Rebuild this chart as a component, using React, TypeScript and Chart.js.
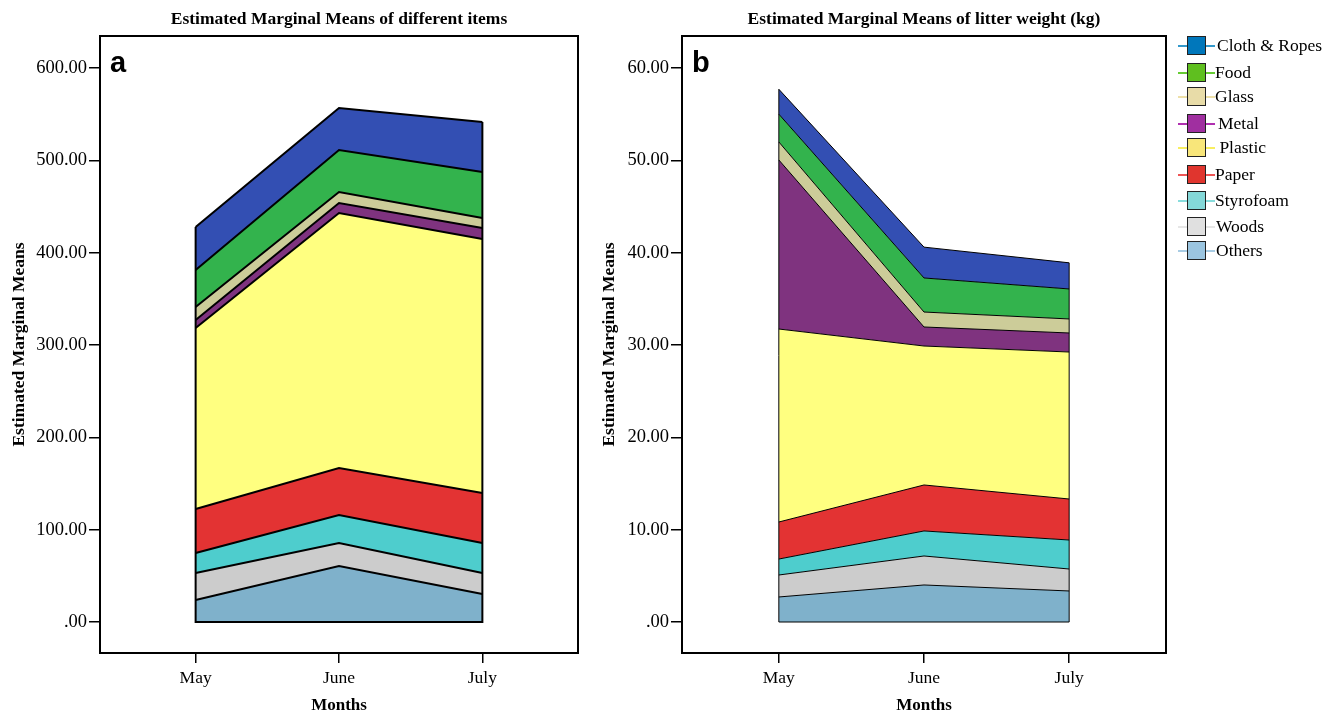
import React, { useEffect, useRef } from "react";
import { Chart, registerables } from "chart.js";

Chart.register(...registerables);

const months = ["May", "June", "July"];
const seriesNames = ["Others", "Woods", "Styrofoam", "Paper", "Plastic", "Metal", "Glass", "Food", "Cloth & Ropes"];
const areaColors = ["#7FB1CB", "#CCCCCC", "#4ECDCD", "#E33333", "#FFFF80", "#7F337F", "#CCCC99", "#33B34D", "#334FB3"];

// Panel a: estimated marginal means of different items (counts)
const itemsOthers = [23.8, 60.6, 30.3];
const itemsWoods = [29.3, 25.0, 22.8];
const itemsStyrofoam = [21.6, 30.3, 32.5];
const itemsPaper = [47.7, 50.9, 54.1];
const itemsPlastic = [196.0, 276.2, 275.1];
const itemsMetal = [8.7, 10.8, 11.9];
const itemsGlass = [14.1, 11.9, 10.9];
const itemsFood = [40.0, 45.5, 49.8];
const itemsCloth = [46.6, 45.5, 54.1];

// Panel b: estimated marginal means of litter weight (kg)
const weightOthers = [2.71, 4.01, 3.36];
const weightWoods = [2.38, 3.14, 2.38];
const weightStyrofoam = [1.73, 2.71, 3.14];
const weightPaper = [4.01, 4.98, 4.44];
const weightPlastic = [20.9, 15.05, 15.92];
const weightMetal = [18.31, 2.06, 2.06];
const weightGlass = [1.95, 1.62, 1.52];
const weightFood = [3.01, 3.69, 3.25];
const weightCloth = [2.7, 3.34, 2.83];

const yTicksA = [0, 100, 200, 300, 400, 500, 600];
const yTicksB = [0, 10, 20, 30, 40, 50, 60];

const legendLabels = ["Cloth & Ropes", "Food", "Glass", "Metal", " Plastic", "Paper", "Styrofoam", "Woods", "Others"];
const legendBoxColors = ["#0077BB", "#5FBF1F", "#E8DCA8", "#A02FA0", "#F8E67A", "#E0352E", "#84D8D8", "#E0E0E0", "#9BC5E0"];
const legendLineColors = ["#3399CC", "#66CC33", "#EEE0A8", "#B030B0", "#F8EE60", "#EE5555", "#88DDDD", "#E6E6E6", "#A8CCE4"];

const SERIF = "'Liberation Serif', 'Times New Roman', serif";
const SANS = "'Liberation Sans', Arial, sans-serif";

type PanelCfg = {
  series: number[][];
  yTicks: number[];
  yMin: number;
  yMax: number;
  lineWidth: number;
  title: string;
  letter: string;
  yAxisWidth: number;
  rightPad: number;
};

function makePanel(canvas: HTMLCanvasElement, cfg: PanelCfg) {
  const deco = {
    id: "deco",
    afterDatasetsDraw(chart: any) {
      const ctx = chart.ctx;
      const xs = chart.scales.x;
      const ys = chart.scales.y;
      const top = chart.getDatasetMeta(cfg.series.length - 1).data;
      const x0 = xs.getPixelForValue(0);
      const x2 = xs.getPixelForValue(months.length - 1);
      const y0 = ys.getPixelForValue(0);
      ctx.save();
      ctx.strokeStyle = "#000";
      ctx.lineWidth = cfg.lineWidth;
      ctx.lineJoin = "miter";
      ctx.beginPath();
      ctx.moveTo(x0, top[0].y);
      ctx.lineTo(x0, y0);
      ctx.lineTo(x2, y0);
      ctx.lineTo(x2, top[top.length - 1].y);
      ctx.stroke();
      ctx.restore();
    },
    afterDraw(chart: any) {
      const ctx = chart.ctx;
      const a = chart.chartArea;
      ctx.save();
      ctx.strokeStyle = "#000";
      ctx.lineWidth = 2;
      ctx.strokeRect(a.left, a.top, a.right - a.left, a.bottom - a.top);
      const cx = (a.left + a.right) / 2;
      ctx.fillStyle = "#000";
      ctx.textAlign = "center";
      ctx.textBaseline = "middle";
      ctx.font = `bold 17.5px ${SERIF}`;
      ctx.fillText(cfg.title, cx, 19);
      ctx.font = `bold 17px ${SERIF}`;
      ctx.fillText("Months", cx, 706);
      ctx.save();
      ctx.translate(19, (a.top + a.bottom) / 2);
      ctx.rotate(-Math.PI / 2);
      ctx.font = `bold 17.5px ${SERIF}`;
      ctx.fillText("Estimated Marginal Means", 0, 0);
      ctx.restore();
      ctx.textAlign = "left";
      ctx.textBaseline = "alphabetic";
      ctx.font = `bold 29px ${SANS}`;
      ctx.fillText(cfg.letter, a.left + 10, 72);
      ctx.restore();
    },
  };

  return new Chart(canvas, {
    type: "line",
    data: {
      datasets: cfg.series.map((vals, i) => ({
        label: seriesNames[i],
        data: vals.map((v, j) => ({ x: j, y: v })),
        backgroundColor: areaColors[i],
        borderColor: "#000",
        borderWidth: cfg.lineWidth,
        pointRadius: 0,
        tension: 0,
        fill: i === 0 ? "origin" : "-1",
      })),
    },
    options: {
      animation: false,
      responsive: false,
      devicePixelRatio: 1,
      layout: { padding: { top: 36, right: cfg.rightPad, left: 0, bottom: 0 } },
      plugins: { legend: { display: false }, tooltip: { enabled: false } },
      scales: {
        x: {
          type: "linear",
          min: -0.667,
          max: 2.667,
          afterFit: (s: any) => {
            s.height = 63;
          },
          afterBuildTicks: (s: any) => {
            s.ticks = months.map((_, i) => ({ value: i }));
          },
          grid: { drawOnChartArea: false, drawTicks: true, tickLength: 10, color: "#000", lineWidth: 1.5 },
          border: { display: false },
          ticks: {
            color: "#000",
            font: { family: SERIF, size: 17.5 },
            padding: 5,
            maxRotation: 0,
            callback: (v: any) => months[Math.round(Number(v))] ?? "",
          },
        },
        y: {
          type: "linear",
          stacked: true,
          min: cfg.yMin,
          max: cfg.yMax,
          afterFit: (s: any) => {
            s.width = cfg.yAxisWidth;
          },
          afterBuildTicks: (s: any) => {
            s.ticks = cfg.yTicks.map((v) => ({ value: v }));
          },
          grid: { drawOnChartArea: false, drawTicks: true, tickLength: 11, color: "#000", lineWidth: 1.5 },
          border: { display: false },
          ticks: {
            color: "#000",
            font: { family: SERIF, size: 18.5 },
            padding: 2,
            callback: (v: any) => (Number(v) === 0 ? ".00" : Number(v).toFixed(2)),
          },
        },
      },
    },
    plugins: [deco],
  } as any);
}

export default function App() {
  const refA = useRef<HTMLCanvasElement>(null);
  const refB = useRef<HTMLCanvasElement>(null);

  useEffect(() => {
    const a = makePanel(refA.current!, {
      series: [itemsOthers, itemsWoods, itemsStyrofoam, itemsPaper, itemsPlastic, itemsMetal, itemsGlass, itemsFood, itemsCloth],
      yTicks: yTicksA,
      yMin: -33.57,
      yMax: 634.66,
      lineWidth: 2,
      title: "Estimated Marginal Means of different items",
      letter: "a",
      yAxisWidth: 100,
      rightPad: 12,
    });
    const b = makePanel(refB.current!, {
      series: [weightOthers, weightWoods, weightStyrofoam, weightPaper, weightPlastic, weightMetal, weightGlass, weightFood, weightCloth],
      yTicks: yTicksB,
      yMin: -3.357,
      yMax: 63.466,
      lineWidth: 1,
      title: "Estimated Marginal Means of litter weight (kg)",
      letter: "b",
      yAxisWidth: 92,
      rightPad: 14,
    });
    return () => {
      a.destroy();
      b.destroy();
    };
  }, []);

  const legendY = [46, 73, 97, 124, 148, 175, 201, 227, 251];
  const textX = [1217, 1215, 1215, 1218, 1215, 1215, 1215, 1216, 1216];

  return (
    <div style={{ position: "fixed", left: 0, top: 0, width: 1338, height: 716, background: "#fff", overflow: "hidden" }}>
      <canvas ref={refA} width={590} height={716} style={{ position: "absolute", left: 0, top: 0 }} />
      <canvas ref={refB} width={590} height={716} style={{ position: "absolute", left: 590, top: 0 }} />
      {legendLabels.map((lab, i) => (
        <React.Fragment key={lab}>
          <div
            style={{
              position: "absolute",
              left: 1178,
              top: legendY[i] - 1,
              width: 37,
              height: 2,
              background: legendLineColors[i],
            }}
          />
          <div
            style={{
              position: "absolute",
              left: 1187,
              top: legendY[i] - 10,
              width: 17,
              height: 17,
              background: legendBoxColors[i],
              border: "1.5px solid #222",
            }}
          />
          <div
            style={{
              position: "absolute",
              left: textX[i],
              top: legendY[i] - 11,
              height: 20,
              lineHeight: "20px",
              fontFamily: SERIF,
              fontSize: 17.5,
              color: "#000",
              whiteSpace: "pre",
            }}
          >
            {lab}
          </div>
        </React.Fragment>
      ))}
    </div>
  );
}
